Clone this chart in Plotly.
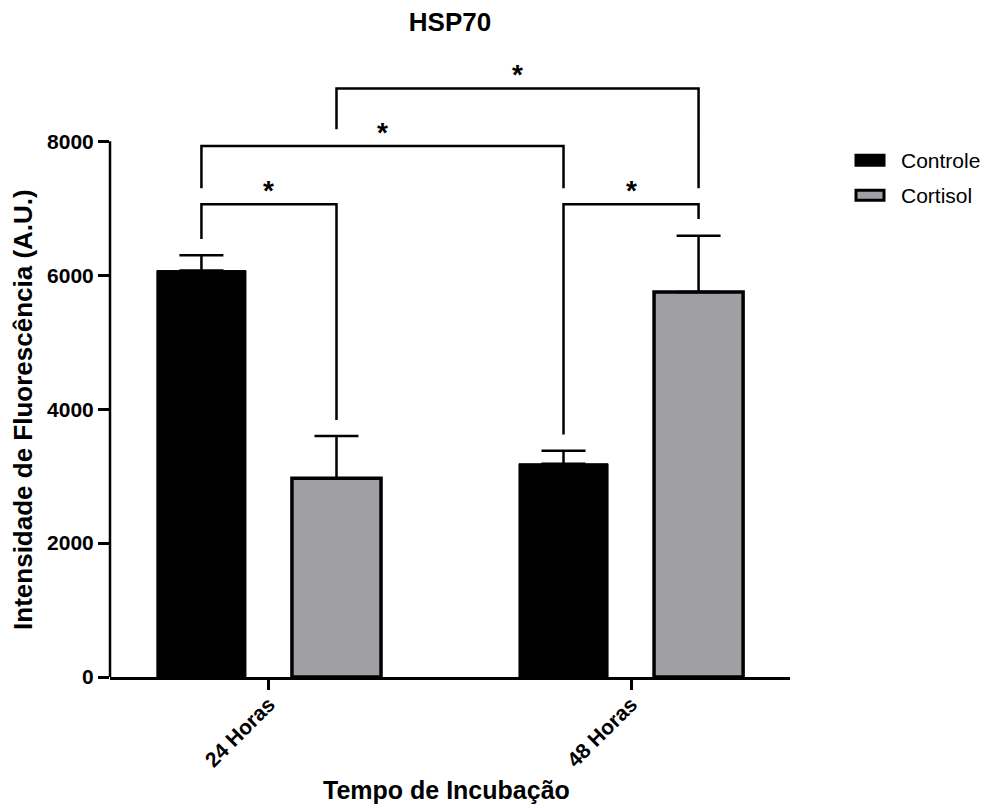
import plotly.graph_objects as go

# ---------------- data ----------------
categories = ["24 Horas", "48 Horas"]
series_names = ["Controle", "Cortisol"]
controle_mean = [6070, 3185]
controle_sem = [230, 195]
cortisol_mean = [2970, 5750]
cortisol_sem = [630, 840]
y_tick_values = [0, 2000, 4000, 6000, 8000]
y_tick_labels = ["0", "2000", "4000", "6000", "8000"]

# significance brackets: (group, series) start, (group, series) end,
# height of the horizontal line, lower end of left leg, lower end of right leg
bracket_from = [(0, 0), (0, 0), (0, 1), (1, 0)]
bracket_to = [(0, 1), (1, 0), (1, 1), (1, 1)]
bracket_top = [7060, 7930, 8790, 7060]
bracket_left_end = [6540, 7300, 8180, 3620]
bracket_right_end = [3840, 7300, 7300, 6840]
bracket_label = ["*", "*", "*", "*"]

# ---------------- style ----------------
FONT = "Liberation Sans, Arial, Helvetica, sans-serif"
GREY = "#A09FA4"
BAR_W = 0.246
CENTER_OFF = [-0.1865, 0.1865]
LW = 2.5
SERIES_FILL = ["black", GREY]

# page has an 8px body margin -> figure drawn at (8, 8)
W, H = 984, 801
ML, MR, MT, MB = 102, 202, 52.5, 131.5
PW = W - ML - MR
PH = H - MT - MB


def px2paper_x(px):
    return (px - 8 - ML) / PW


def px2paper_y(py):
    return (H - MB - (py - 8)) / PH


fig = go.Figure()

fig.add_bar(
    x=categories, y=controle_mean, name=series_names[0], showlegend=False,
    width=BAR_W, offset=CENTER_OFF[0] - BAR_W / 2,
    marker=dict(color=SERIES_FILL[0], line=dict(color="black", width=1)),
    error_y=dict(type="data", array=controle_sem, arrayminus=[0] * len(controle_sem),
                 symmetric=False, color="black", thickness=LW, width=22),
)
fig.add_bar(
    x=categories, y=cortisol_mean, name=series_names[1], showlegend=False,
    width=BAR_W, offset=CENTER_OFF[1] - BAR_W / 2,
    marker=dict(color=SERIES_FILL[1], line=dict(color="black", width=3.5)),
    error_y=dict(type="data", array=cortisol_sem, arrayminus=[0] * len(cortisol_sem),
                 symmetric=False, color="black", thickness=LW, width=22),
)

shapes = []
annotations = []
# y-axis line only up to 8000
shapes.append(dict(type="line", xref="paper", yref="y", x0=0, x1=0,
                   y0=0, y1=y_tick_values[-1], line=dict(color="black", width=LW)))

for (g0, s0), (g1, s1), top, le, re_, lab in zip(bracket_from, bracket_to, bracket_top,
                                                 bracket_left_end, bracket_right_end, bracket_label):
    xa = g0 + CENTER_OFF[s0]
    xb = g1 + CENTER_OFF[s1]
    path = f"M {xa},{le} L {xa},{top} L {xb},{top} L {xb},{re_}"
    shapes.append(dict(type="path", xref="x", yref="y", path=path,
                       line=dict(color="black", width=LW)))
    annotations.append(dict(x=(xa + xb) / 2, y=top, xref="x", yref="y", text=f"<b>{lab}</b>",
                            showarrow=False, yanchor="bottom", yshift=-4,
                            font=dict(family=FONT, size=28, color="black")))

# legend drawn by hand (wide rectangular keys)
legend_rows_py = [160, 195]
for i, name in enumerate(series_names):
    yc = legend_rows_py[i]
    shapes.append(dict(type="rect", xref="paper", yref="paper",
                       x0=px2paper_x(856), x1=px2paper_x(884),
                       y0=px2paper_y(yc + 5), y1=px2paper_y(yc - 5),
                       fillcolor=SERIES_FILL[i], line=dict(color="black", width=3)))
    annotations.append(dict(x=px2paper_x(899), y=px2paper_y(yc), xref="paper", yref="paper",
                            text=name, showarrow=False, xanchor="left", yanchor="middle",
                            font=dict(family=FONT, size=21, color="black")))

# axis titles as annotations
annotations.append(dict(x=px2paper_x(23), y=px2paper_y(410), xref="paper", yref="paper",
                        text="<b>Intensidade de Fluorescência (A.U.)</b>", textangle=-90,
                        showarrow=False, xanchor="center", yanchor="middle",
                        font=dict(family=FONT, size=26, color="black")))
annotations.append(dict(x=px2paper_x(446), y=px2paper_y(791), xref="paper", yref="paper",
                        text="<b>Tempo de Incubação</b>", showarrow=False,
                        xanchor="center", yanchor="middle",
                        font=dict(family=FONT, size=25, color="black")))

fig.update_layout(
    width=W, height=H,
    margin=dict(l=ML, r=MR, t=MT, b=MB, pad=0, autoexpand=False),
    paper_bgcolor="white", plot_bgcolor="white",
    barmode="overlay",
    title=dict(text="<b>HSP70</b>", x=(450 - 8) / W, xanchor="center",
               y=1 - (22 - 8) / H, yanchor="middle",
               font=dict(family=FONT, size=26, color="black")),
    font=dict(family=FONT, color="black"),
    showlegend=False,
    shapes=shapes,
    annotations=annotations,
)
fig.update_xaxes(
    range=[-0.439, 1.439], showline=True, linecolor="black", linewidth=LW,
    ticks="outside", ticklen=10, tickwidth=LW, tickcolor="black",
    tickangle=-45, showgrid=False, zeroline=False, automargin=False,
    ticklabelstandoff=-6,
    tickfont=dict(family=FONT, size=21, color="black"),
    tickprefix="<b>", ticksuffix="</b>",
)
fig.update_yaxes(
    range=[0, 9200], showline=False, showgrid=False, zeroline=False, automargin=False,
    tickmode="array", tickvals=y_tick_values, ticktext=[f"<b>{t}</b>" for t in y_tick_labels],
    ticks="outside", ticklen=11, tickwidth=LW, tickcolor="black",
    tickfont=dict(family=FONT, size=21, color="black"),
)

fig.write_html("out.html")
